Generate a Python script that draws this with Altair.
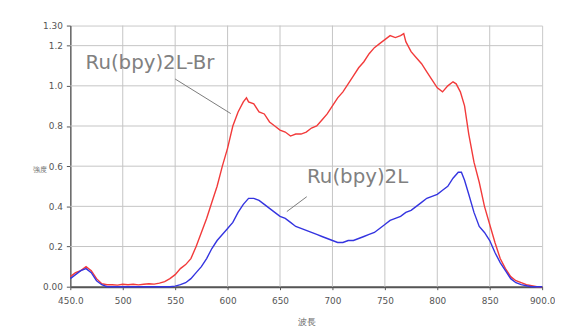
import altair as alt
import pandas as pd

# Ru(bpy)2L-Br (red)
red_x = [450, 455, 460, 465, 470, 475, 480, 485, 490, 495, 500, 505, 510, 515, 520, 525, 530, 535, 540, 545,
         550, 555, 560, 565, 570, 575, 580, 585, 590, 595, 600, 605, 610, 615, 618, 620, 625, 630, 635, 640,
         645, 650, 655, 660, 665, 670, 675, 680, 685, 690, 695, 700, 705, 710, 715, 720, 725, 730, 735, 740,
         745, 750, 755, 760, 765, 768, 770, 775, 780, 785, 790, 795, 800, 805, 810, 815, 818, 822, 826, 830,
         835, 840, 845, 850, 855, 860, 865, 870, 875, 880, 885, 890, 895, 900]
red_y = [0.05, 0.07, 0.08, 0.10, 0.08, 0.04, 0.015, 0.01, 0.01, 0.008, 0.012, 0.01, 0.012, 0.009, 0.012, 0.015, 0.013, 0.018, 0.025, 0.04,
         0.06, 0.09, 0.11, 0.14, 0.20, 0.27, 0.34, 0.42, 0.50, 0.60, 0.69, 0.80, 0.87, 0.92, 0.94, 0.92, 0.91, 0.87, 0.86, 0.82,
         0.80, 0.78, 0.77, 0.75, 0.76, 0.76, 0.77, 0.79, 0.80, 0.83, 0.86, 0.90, 0.94, 0.97, 1.01, 1.05, 1.09, 1.12, 1.16, 1.19,
         1.21, 1.23, 1.25, 1.24, 1.25, 1.26, 1.22, 1.17, 1.14, 1.11, 1.07, 1.03, 0.99, 0.97, 1.00, 1.02, 1.01, 0.97, 0.90, 0.76,
         0.62, 0.52, 0.40, 0.31, 0.22, 0.14, 0.09, 0.05, 0.03, 0.02, 0.01, 0.005, 0.0, 0.0]

# Ru(bpy)2L (blue)
blue_x = [450, 455, 460, 465, 470, 475, 480, 485, 500, 520, 540, 545, 550, 555, 560, 565, 570, 575, 580, 585,
          590, 595, 600, 605, 610, 615, 620, 625, 630, 635, 640, 645, 650, 655, 660, 665, 670, 675, 680, 685,
          690, 695, 700, 705, 710, 715, 720, 725, 730, 735, 740, 745, 750, 755, 760, 765, 770, 775, 780, 785,
          790, 795, 800, 805, 810, 815, 820, 823, 826, 830, 835, 840, 845, 850, 855, 860, 865, 870, 875, 880,
          885, 890, 900]
blue_y = [0.04, 0.06, 0.08, 0.09, 0.07, 0.03, 0.01, 0.0, 0.0, 0.0, 0.0, 0.0, 0.003, 0.01, 0.02, 0.04, 0.07, 0.10, 0.14, 0.19,
          0.23, 0.26, 0.29, 0.32, 0.37, 0.41, 0.44, 0.44, 0.43, 0.41, 0.39, 0.37, 0.35, 0.34, 0.32, 0.30, 0.29, 0.28, 0.27, 0.26,
          0.25, 0.24, 0.23, 0.22, 0.22, 0.23, 0.23, 0.24, 0.25, 0.26, 0.27, 0.29, 0.31, 0.33, 0.34, 0.35, 0.37, 0.38, 0.40, 0.42,
          0.44, 0.45, 0.46, 0.48, 0.50, 0.54, 0.57, 0.57, 0.53, 0.46, 0.37, 0.30, 0.27, 0.23, 0.17, 0.12, 0.08, 0.04, 0.02, 0.01,
          0.005, 0.0, 0.0]

labels = ["Ru(bpy)2L-Br", "Ru(bpy)2L"]
label_x = [526, 724]
label_y = [1.113, 0.547]
leader_x1 = [550, 675.5]
leader_y1 = [1.034, 0.448]
leader_x2 = [603, 656.5]
leader_y2 = [0.862, 0.374]

x_ticks = [450, 500, 550, 600, 650, 700, 750, 800, 850, 900]
y_ticks = [0, 0.2, 0.4, 0.6, 0.8, 1.0, 1.2, 1.3]

df = pd.concat([
    pd.DataFrame({"wl": red_x, "v": red_y, "s": "Ru(bpy)2L-Br"}),
    pd.DataFrame({"wl": blue_x, "v": blue_y, "s": "Ru(bpy)2L"}),
])
ann = pd.DataFrame({"t": labels, "x": label_x, "y": label_y})
lead = pd.DataFrame({"x": leader_x1, "y": leader_y1, "x2": leader_x2, "y2": leader_y2})
xgrid = pd.DataFrame({"x": x_ticks[1:-1]})
ygrid = pd.DataFrame({"y": y_ticks[1:-1]})

xscale = alt.Scale(domain=[450, 900], nice=False, zero=False)
yscale = alt.Scale(domain=[0, 1.3], nice=False, zero=True)

xaxis = alt.Axis(values=x_ticks, title="波長", titleFontSize=9, titleColor="#666", titleFontWeight="normal",
                 titlePadding=12, grid=False,
                 labelExpr="datum.value == 450 ? '450.0' : datum.value == 900 ? '900.0' : format(datum.value, 'd')",
                 labelFont="DejaVu Sans", labelFontSize=9, labelColor="#555", labelPadding=7,
                 labelFlush=False, labelOverlap=False,
                 tickSize=3, tickColor="#555", domainColor="#555", domainWidth=2)
yaxis = alt.Axis(values=y_ticks, title="強度", titleAngle=0, titleFontSize=7, titleColor="#666",
                 titleFontWeight="normal", titleX=-31, titleY=146, titleAlign="center", titleBaseline="middle",
                 grid=False,
                 labelExpr="datum.value == 0 ? '0.00' : datum.value == 1.3 ? '1.30' : format(datum.value, '.1f')",
                 labelFont="DejaVu Sans", labelFontSize=9, labelColor="#555", labelPadding=4,
                 labelFlush=False, labelOverlap=False,
                 tickSize=4, tickColor="#555", domainColor="#666", domainWidth=1.5)

vgrid = alt.Chart(xgrid).mark_rule(color="#c4c4c4", strokeWidth=1).encode(
    x=alt.X("x:Q", scale=xscale, axis=xaxis)
)
hgrid = alt.Chart(ygrid).mark_rule(color="#c4c4c4", strokeWidth=1).encode(
    y=alt.Y("y:Q", scale=yscale, axis=yaxis)
)

lines = alt.Chart(df).mark_line(strokeWidth=1.4, interpolate="linear").encode(
    x=alt.X("wl:Q", scale=xscale, axis=xaxis),
    y=alt.Y("v:Q", scale=yscale, axis=yaxis),
    color=alt.Color("s:N", scale=alt.Scale(domain=["Ru(bpy)2L-Br", "Ru(bpy)2L"],
                                          range=["#f23a3a", "#3434e0"]), legend=None),
    detail="s:N",
)

leaders = alt.Chart(lead).mark_rule(color="#7a7a7a", strokeWidth=1).encode(
    x=alt.X("x:Q", scale=xscale, axis=xaxis), y=alt.Y("y:Q", scale=yscale, axis=yaxis),
    x2="x2:Q", y2="y2:Q"
)

texts = alt.Chart(ann).mark_text(font="DejaVu Sans", fontSize=20, color="#808080",
                                  align="center", baseline="middle").encode(
    x=alt.X("x:Q", scale=xscale, axis=xaxis), y=alt.Y("y:Q", scale=yscale, axis=yaxis), text="t:N"
)

chart = alt.layer(vgrid, hgrid, lines, leaders, texts).properties(
    width=477, height=264, autosize="none",
    padding={"left": 63, "top": 16, "right": 13, "bottom": 41},
    background="white",
).configure_view(stroke="#c8c8c8", strokeWidth=1)

chart.save("out.html", embed_options={"renderer": "svg", "actions": False})
